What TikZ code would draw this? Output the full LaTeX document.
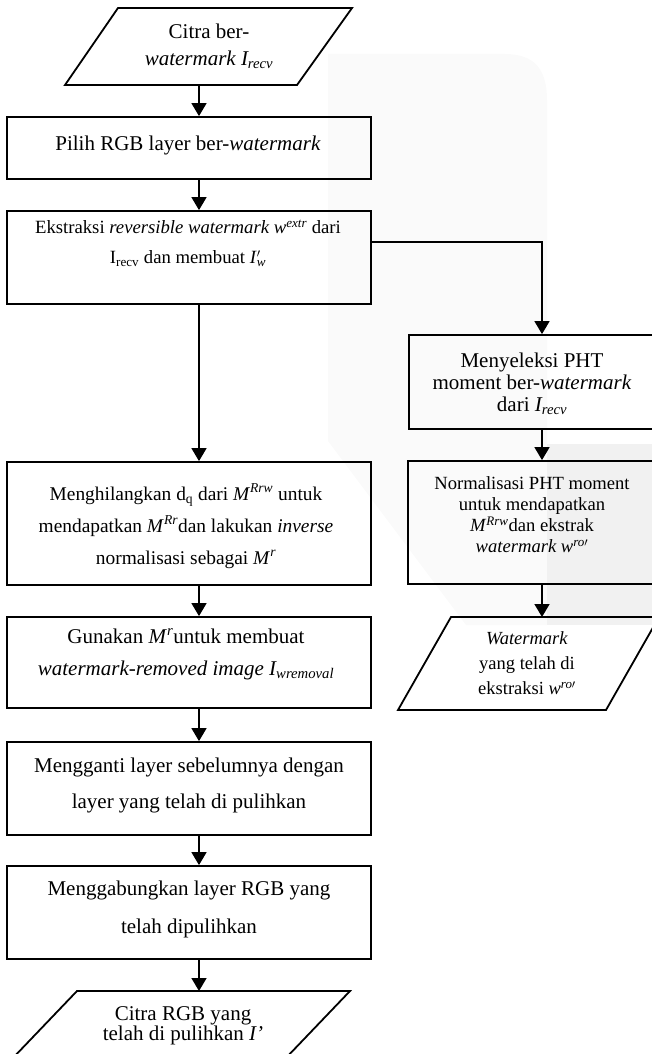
\documentclass[tikz,border=0pt]{standalone}
\usepackage{fontspec}
\setmainfont{Liberation Serif}
\usetikzlibrary{arrows.meta}
\tikzset{
  box/.style={draw, line width=1.8pt, rectangle, inner sep=0pt},
  para/.style={draw, line width=1.8pt, line join=miter},
  arr/.style={line width=1.6pt, -{Triangle[width=15pt,length=13pt]}},
  txt/.style={align=center, inner sep=0pt},
}
\newcommand{\fs}[2]{\fontsize{#1}{#2}\selectfont}
\newcommand{\Msup}[1]{\textit{M}\textsuperscript{\textit{#1}}}
\begin{document}
\begin{tikzpicture}[x=1pt,y=-1pt]
\useasboundingbox (0,0) rectangle (652,1054);
\clip (0,0) rectangle (652,1054);
% faint page watermark in the background
\fill[gray!4] (328,54) -- (505,54) .. controls (535,54) and (547,70) .. (547,100)
   -- (547,625) -- (466,625) -- (328,441) -- cycle;
\fill[gray!11] (547,444) rectangle (652,625);

\coordinate (cx) at (199,0);
\coordinate (rx) at (542,0);

% top input parallelogram
\coordinate (p1a) at (118,8);
\coordinate (p1b) at (352,8);
\coordinate (p1c) at (297,85);
\coordinate (p1d) at (65,85);
\draw[para] (p1a) -- (p1b) -- (p1c) -- (p1d) -- cycle;
\node[txt, font=\fs{21}{27}] (p1t) at (209,46.5) {Citra ber-\\\textit{watermark I\textsubscript{recv}}};

% left column boxes
\node[box, minimum width=364pt, minimum height=62pt] (b2) at (189,148) {};
\node[txt, font=\fs{21}{27}] (b2t) at (188,145) {Pilih RGB layer ber-\textit{watermark}};

\node[box, minimum width=364pt, minimum height=93pt] (b3) at (189,257.5) {};
\node[txt, font=\fs{18.7}{30}] (b3t) at (188,243) {Ekstraksi \textit{reversible watermark w\textsuperscript{extr}} dari\\I\textsubscript{recv} dan membuat \textit{I}\rlap{\textsuperscript{$\prime$}}\textsubscript{\textit{w}}};

\node[box, minimum width=364pt, minimum height=123pt] (b5) at (189,523.5) {};
\node[txt, font=\fs{19.4}{32}] (b5t) at (186,526) {Menghilangkan d\textsubscript{q} dari \Msup{Rrw} untuk\\mendapatkan \Msup{Rr}dan lakukan \textit{inverse}\\normalisasi sebagai \Msup{r}};

\node[box, minimum width=364pt, minimum height=91pt] (b7) at (189,662.5) {};
\node[txt, font=\fs{21}{32}] (b7t) at (186,654) {Gunakan \Msup{r}untuk membuat\\\textit{watermark-removed image I\textsubscript{wremoval}}};

\node[box, minimum width=364pt, minimum height=93pt] (b8) at (189,788.5) {};
\node[txt, font=\fs{21}{36}] (b8t) at (189,785) {Mengganti layer sebelumnya dengan\\layer yang telah di pulihkan};

\node[box, minimum width=364pt, minimum height=93pt] (b9) at (189,912.5) {};
\node[txt, font=\fs{21}{38}] (b9t) at (189,909) {Menggabungkan layer RGB yang\\telah dipulihkan};

% bottom output parallelogram
\coordinate (p3a) at (77,991);
\coordinate (p3b) at (350,991);
\coordinate (p3c) at (284,1060);
\coordinate (p3d) at (11,1060);
\draw[para] (p3a) -- (p3b) -- (p3c) -- (p3d) -- cycle;
\node[txt, font=\fs{21}{20}] (p3t) at (183,1026) {Citra RGB yang\\telah di pulihkan \textit{I’}};

% right column
\node[box, minimum width=251pt, minimum height=94pt] (b4) at (534.5,382) {};
\node[txt, font=\fs{21}{22}] (b4t) at (532,384) {Menyeleksi PHT\\moment ber-\textit{watermark}\\dari \textit{I\textsubscript{recv}}};

\node[box, minimum width=252pt, minimum height=123pt] (b6) at (534,522.5) {};
\node[txt, font=\fs{18.6}{21}] (b6t) at (532,515) {Normalisasi PHT moment\\untuk mendapatkan\\\Msup{Rrw}dan ekstrak\\\textit{watermark w}\textsuperscript{\textit{ro}$\prime$}};

\coordinate (p2a) at (451,617);
\coordinate (p2b) at (659,617);
\coordinate (p2c) at (606,710);
\coordinate (p2d) at (398,710);
\draw[para] (p2a) -- (p2b) -- (p2c) -- (p2d) -- cycle;
\node[txt, font=\fs{18.5}{25}] (p2t) at (527,663) {\textit{Watermark}\\yang telah di\\ekstraksi \textit{w}\textsuperscript{\textit{ro}$\prime$}};

% connectors
\draw[arr] (p1c -| cx) -- (b2.north -| cx);
\draw[arr] (b2.south -| cx) -- (b3.north -| cx);
\draw[arr] (b3.south -| cx) -- (b5.north -| cx);
\draw[arr] (b5.south -| cx) -- (b7.north -| cx);
\draw[arr] (b7.south -| cx) -- (b8.north -| cx);
\draw[arr] (b8.south -| cx) -- (b9.north -| cx);
\draw[arr] (b9.south -| cx) -- (p3a -| cx);
\coordinate (br) at (542,242);
\draw[arr] (b3.east |- br) -- (br) -- (b4.north -| br);
\draw[arr] (b4.south -| rx) -- (b6.north -| rx);
\draw[arr] (b6.south -| rx) -- (p2a -| rx);
\end{tikzpicture}
\end{document}
